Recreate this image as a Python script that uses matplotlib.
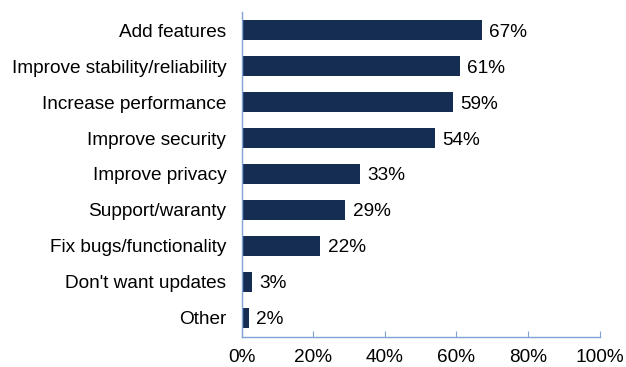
import matplotlib
matplotlib.use("Agg")
import matplotlib.pyplot as plt
from matplotlib.ticker import FuncFormatter

categories = [
    "Add features",
    "Improve stability/reliability",
    "Increase performance",
    "Improve security",
    "Improve privacy",
    "Support/waranty",
    "Fix bugs/functionality",
    "Don't want updates",
    "Other",
]
shares = [67, 61, 59, 54, 33, 29, 22, 3, 2]
x_ticks = [0, 20, 40, 60, 80, 100]

plt.rcParams["font.family"] = ["Liberation Sans", "DejaVu Sans"]
FS = 13.7

fig = plt.figure(figsize=(6.26, 3.67), dpi=100)
ax = fig.add_axes([0.386, 0.082, 0.572, 0.885])

pos = list(range(len(categories)))
ax.barh(pos, shares, height=0.56, color="#152d52")
for p, v in zip(pos, shares):
    ax.text(v + 2, p, f"{v}%", va="center_baseline", ha="left", fontsize=FS, color="#000000")

ax.set_yticks(pos)
ax.set_yticklabels(categories, fontsize=FS)
ax.set_ylim(len(categories) - 0.5 + 0.03, -0.5)
ax.set_xlim(0, 100)
ax.set_xticks(x_ticks)
ax.xaxis.set_major_formatter(FuncFormatter(lambda v, _: f"{v:.0f}%"))
ax.tick_params(axis="x", direction="in", length=4, color="#7fa3d6", labelsize=FS, pad=9)
ax.tick_params(axis="y", length=0, pad=11)

for side in ("top", "right"):
    ax.spines[side].set_visible(False)
for side in ("left", "bottom"):
    ax.spines[side].set_color("#7fa3d6")
    ax.spines[side].set_linewidth(1.0)

fig.savefig("out.png", dpi=100)
